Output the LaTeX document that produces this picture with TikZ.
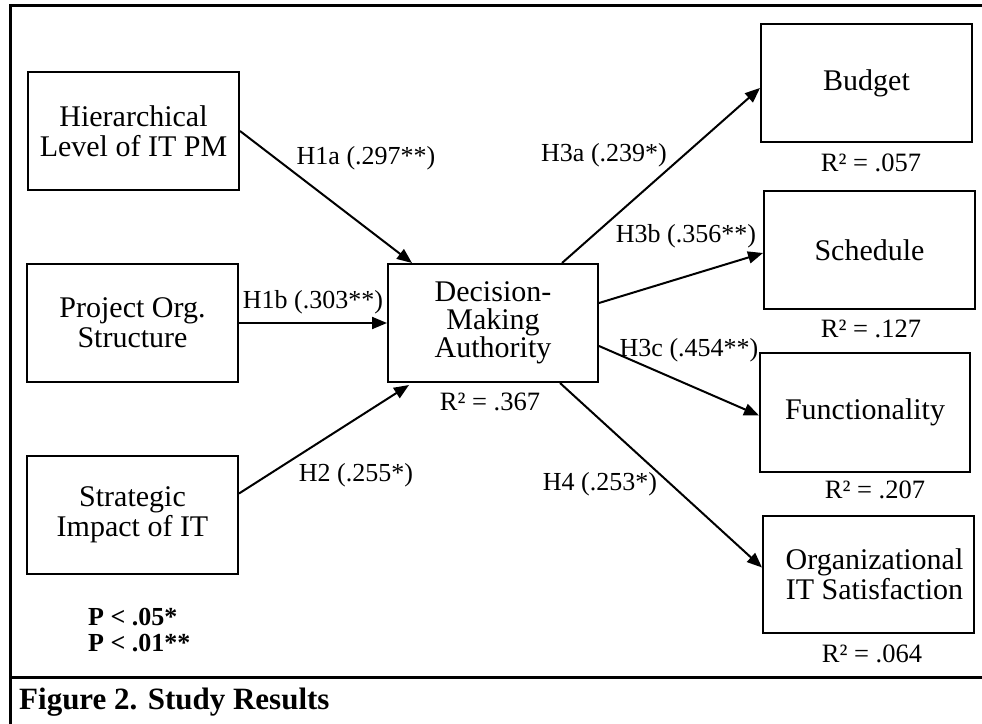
\documentclass[tikz,border=0pt]{standalone}
\usepackage{fontspec}
\setmainfont{Liberation Serif}
\usetikzlibrary{arrows.meta,calc}
\tikzset{
  box/.style={draw,line width=2pt,minimum width=211pt,minimum height=118pt,inner sep=0pt,align=center,font=\fontsize{30}{30}\selectfont},
  lbl/.style={inner sep=0pt,font=\fontsize{26}{28}\selectfont},
  rsq/.style={inner sep=0pt,font=\fontsize{26.5}{28}\selectfont},
  conn/.style={line width=2pt,-{Triangle[length=15pt,width=12pt]}},
  frame/.style={line width=3pt},
  legend/.style={inner sep=0pt,anchor=west,font=\bfseries\fontsize{26}{28}\selectfont},
}
\begin{document}
\begin{tikzpicture}[x=1pt,y=-1pt]
\useasboundingbox (0,0) rectangle (982,723);
% frame
\coordinate (ftl) at (10,5);
\coordinate (ftr) at (983,5);
\coordinate (fbl) at (10,724);
\coordinate (fml) at (10,677);
\coordinate (fmr) at (983,677);
\draw[frame] (ftr) -- (ftl) -- (fbl);
\draw[frame] (fml) -- (fmr);
% boxes
\node[box] (hier) at (133.5,131) {Hierarchical\\Level of IT PM};
\node[box] (proj) at (132.5,323) {Project Org.\\Structure};
\node[box] (strat) at (132.5,514.5) {Strategic\\Impact of IT};
\node[box,minimum width=210pt,font=\fontsize{30}{28}\selectfont] (dec) at (493,323) {Decision-\\Making\\Authority};
\node[box] (budget) at (866.5,83) {Budget};
\node[box] (sched) at (869.5,250) {Schedule};
\node[box,minimum width=210pt,minimum height=119pt] (func) at (865,412.5) {Functionality};
\node[box,minimum height=117pt] (orgit) at (868.5,574.5) {\hspace*{12pt}Organizational\\\hspace*{12pt}IT Satisfaction};
% connectors
\draw[conn] (hier.east) -- ($(dec.north west)+(25,0)$);
\draw[conn] (proj.east) -- (dec.west);
\draw[conn] ($(strat.east)+(0,-21)$) -- ($(dec.south west)+(22,2)$);
\draw[conn] ($(dec.north east)+(-37,0)$) -- ($(budget.west)+(0,5)$);
\draw[conn] ($(dec.east)+(0,-20)$) -- ($(sched.west)+(0,3)$);
\draw[conn] ($(dec.east)+(0,23)$) -- ($(func.west)+(0,3)$);
\draw[conn] ($(dec.south east)+(-39,0)$) -- ($(orgit.west)+(0,-7)$);
% path labels
\node[lbl] (l1a) at (366,158) {H1a (.297**)};
\node[lbl] (l1b) at (313,302) {H1b (.303**)};
\node[lbl] (l2) at (356,475) {H2 (.255*)};
\node[lbl] (l3a) at (604,155) {H3a (.239*)};
\node[lbl] (l3b) at (686,236) {H3b (.356**)};
\node[lbl] (l3c) at (689,350) {H3c (.454**)};
\node[lbl] (l4) at (600,484) {H4 (.253*)};
% R squared
\node[rsq] (rdec) at (490,402) {R² = .367};
\node[rsq] (rbud) at (871,163) {R² = .057};
\node[rsq] (rsch) at (871,329) {R² = .127};
\node[rsq] (rfun) at (875,490) {R² = .207};
\node[rsq] (rorg) at (872,654) {R² = .064};
% legend
\node[legend] (p1) at (88,617) {P < .05*};
\node[legend] (p2) at (88,643) {P < .01**};
% caption
\node[inner sep=0pt,anchor=west,font=\bfseries\fontsize{31}{32}\selectfont] (cap) at (19,702) {Figure 2. Study Results};
\end{tikzpicture}
\end{document}
